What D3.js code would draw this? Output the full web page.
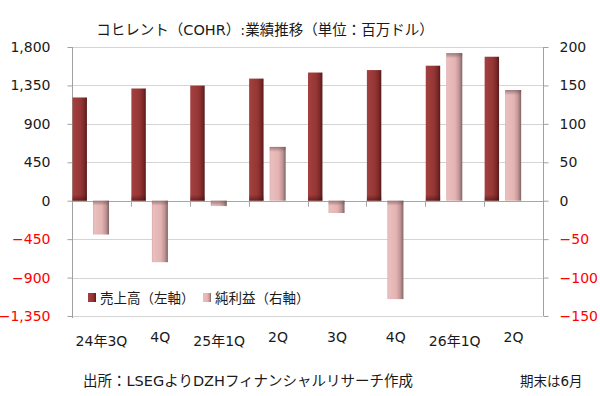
<!DOCTYPE html>
<html lang="ja">
<head>
<meta charset="UTF-8">
<title>コヒレント（COHR）業績推移</title>
<script src="https://cdn.jsdelivr.net/npm/d3@7"></script>
<style>
  body { margin: 0; background: #fff; }
  text { font-family: "DejaVu Sans", "Noto Sans CJK JP", sans-serif; fill: #1a1a1a; }
</style>
</head>
<body>
<script>
// quarters, revenue (left axis) and net income (right axis), million USD
var categories = ["24年3Q", "4Q", "25年1Q", "2Q", "3Q", "4Q", "26年1Q", "2Q"];
var revenue = [1209, 1314, 1348, 1430, 1501, 1530, 1581, 1686];
var netIncome = [-44, -80, -7, 70, -16, -128, 192, 144];
var leftTicks = [-1350, -900, -450, 0, 450, 900, 1350, 1800];
var rightTicks = [-150, -100, -50, 0, 50, 100, 150, 200];

var W = 600, H = 396;
var plotL = 72, plotR = 543, plotT = 47, plotB = 316;

var svg = d3.select("body").append("svg")
  .attr("width", W).attr("height", H);

var defs = svg.append("defs");
function grad(id, stops, vertical) {
  var g = defs.append("linearGradient").attr("id", id)
    .attr("x1", "0%").attr("y1", "0%")
    .attr("x2", vertical ? "0%" : "100%").attr("y2", vertical ? "100%" : "0%");
  stops.forEach(function(s) {
    g.append("stop").attr("offset", s[0]).attr("stop-color", s[1])
      .attr("stop-opacity", s[2] == null ? 1 : s[2]);
  });
}
grad("gRev", [["0%", "#a3403f"], ["55%", "#953735"], ["80%", "#7e2a29"], ["100%", "#541a1a"]]);
grad("gNet", [["0%", "#d9aaaa"], ["8%", "#e9bfbe"], ["55%", "#e4b3b3"], ["80%", "#c29696"], ["100%", "#7f6464"]]);
grad("shadeDown", [["0%", "#3a0e0e", 0], ["100%", "#3a0e0e", 0.55]], true);
grad("shadeUp", [["0%", "#6a5050", 0.6], ["100%", "#6a5050", 0]], true);

var x = d3.scaleBand().domain(d3.range(categories.length)).range([plotL, plotR]);
var yL = d3.scaleLinear().domain([-1350, 1800]).range([plotB, plotT]);
var yR = d3.scaleLinear().domain([-150, 200]).range([plotB, plotT]);

// gridlines
svg.append("g").selectAll("line").data(leftTicks).enter().append("line")
  .attr("x1", plotL).attr("x2", plotR)
  .attr("y1", function(d) { return Math.round(yL(d)) + 0.5; })
  .attr("y2", function(d) { return Math.round(yL(d)) + 0.5; })
  .attr("stroke", function(d) { return d === 0 ? "#a6a6a6" : "#d4d4d4"; })
  .attr("stroke-width", 1.2);

// left axis
var axL = svg.append("g").attr("transform", "translate(" + (plotL + 0.5) + ",0)")
  .call(d3.axisLeft(yL).tickValues(leftTicks).tickSize(5).tickPadding(17)
    .tickFormat(d3.format(",")));
axL.select(".domain").attr("stroke", "#a0a0a0").attr("d", "M0," + plotT + "V" + (plotB + 2));
axL.selectAll(".tick line").attr("stroke", "#a0a0a0");
axL.selectAll(".tick text").style("font-size", "14px")
  .style("fill", function(d) { return d < 0 ? "#ff0000" : "#1a1a1a"; });

// right axis
var axR = svg.append("g").attr("transform", "translate(" + (plotR + 0.5) + ",0)")
  .call(d3.axisRight(yR).tickValues(rightTicks).tickSize(5).tickPadding(11));
axR.select(".domain").attr("stroke", "#a0a0a0").attr("d", "M0," + plotT + "V" + plotB);
axR.selectAll(".tick line").attr("stroke", "#a0a0a0");
axR.selectAll(".tick text").style("font-size", "14px")
  .style("fill", function(d) { return d < 0 ? "#ff0000" : "#1a1a1a"; });

// category ticks on the zero line
svg.append("g").selectAll("line").data(d3.range(1, categories.length)).enter().append("line")
  .attr("x1", function(i) { return Math.round(x(i)) + 0.5; })
  .attr("x2", function(i) { return Math.round(x(i)) + 0.5; })
  .attr("y1", yL(0)).attr("y2", yL(0) + 6)
  .attr("stroke", "#a6a6a6");

var bw = x.bandwidth();
var revW = bw * 0.245, netX = bw * 0.357, netW = bw * 0.272;

// revenue bars, with a darker foot near the zero line
var rev = svg.append("g");
rev.selectAll("rect.bar").data(revenue).enter().append("rect").attr("class", "bar")
  .attr("x", function(d, i) { return x(i) + 0.5; })
  .attr("width", revW)
  .attr("y", function(d) { return yL(Math.max(0, d)); })
  .attr("height", function(d) { return Math.abs(yL(d) - yL(0)); })
  .attr("fill", "url(#gRev)");
rev.selectAll("rect.shade").data(revenue).enter().append("rect").attr("class", "shade")
  .attr("x", function(d, i) { return x(i) + 0.5; })
  .attr("width", revW)
  .attr("y", yL(0) - 6).attr("height", 6)
  .attr("fill", "url(#shadeDown)");

// net income bars, with a darker top edge
var net = svg.append("g");
net.selectAll("rect.bar").data(netIncome).enter().append("rect").attr("class", "bar")
  .attr("x", function(d, i) { return x(i) + netX; })
  .attr("width", netW)
  .attr("y", function(d) { return yR(Math.max(0, d)); })
  .attr("height", function(d) { return Math.abs(yR(d) - yR(0)); })
  .attr("fill", "url(#gNet)");
net.selectAll("rect.shade").data(netIncome).enter().append("rect").attr("class", "shade")
  .attr("x", function(d, i) { return x(i) + netX; })
  .attr("width", netW)
  .attr("y", function(d) { return yR(Math.max(0, d)); })
  .attr("height", function(d) { return Math.min(5, Math.abs(yR(d) - yR(0))); })
  .attr("fill", "url(#shadeUp)");

// category labels (year-labelled ones sit a little lower)
svg.append("g").selectAll("text").data(categories).enter().append("text")
  .attr("x", function(d, i) { return x(i) + bw / 2; })
  .attr("y", function(d) { return d.indexOf("年") >= 0 ? 346 : 342; })
  .attr("text-anchor", "middle")
  .style("font-size", "14px")
  .text(function(d) { return d; });

// legend
var legend = [["売上高（左軸）", "url(#gRev)", 88], ["純利益（右軸）", "url(#gNet)", 203]];
var lg = svg.append("g").selectAll("g").data(legend).enter().append("g")
  .attr("transform", function(d) { return "translate(" + d[2] + ",298)"; });
lg.append("rect").attr("x", 0).attr("y", -5).attr("width", 8).attr("height", 9)
  .attr("fill", function(d) { return d[1]; });
lg.append("text").attr("x", 12).attr("y", 5).style("font-size", "13.5px")
  .text(function(d) { return d[0]; });

// title & notes
svg.append("text").attr("x", 265).attr("y", 35).attr("text-anchor", "middle")
  .style("font-size", "14.5px").text("コヒレント（COHR）:業績推移（単位：百万ドル）");
svg.append("text").attr("x", 83).attr("y", 386).style("font-size", "14.5px")
  .text("出所：LSEGよりDZHフィナンシャルリサーチ作成");
svg.append("text").attr("x", 520).attr("y", 386).style("font-size", "13.5px")
  .text("期末は6月");
</script>
</body>
</html>
